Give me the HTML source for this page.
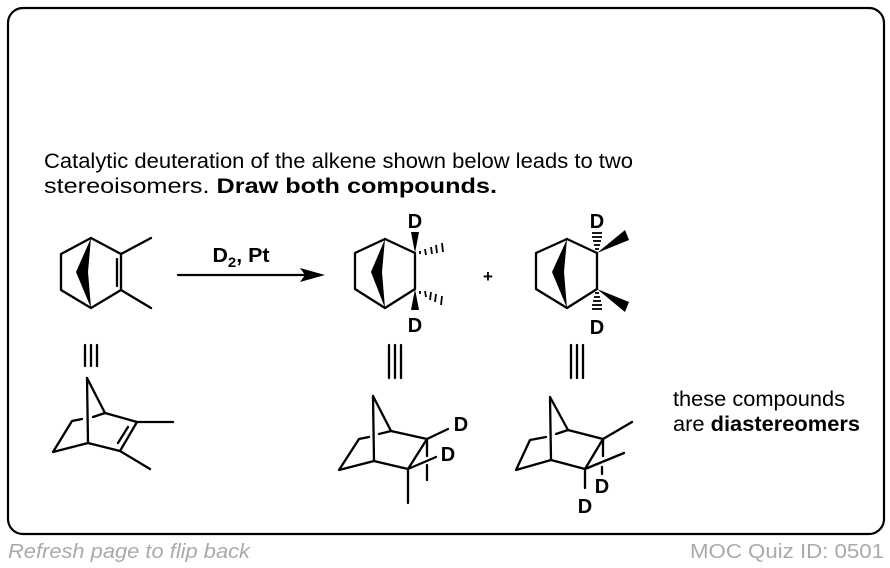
<!DOCTYPE html>
<html><head><style>
html,body{margin:0;padding:0;background:#fff;}
svg{display:block;}
text{font-family:"Liberation Sans",Arial,sans-serif;}
</style></head><body>
<svg width="890" height="568" viewBox="0 0 890 568" xmlns="http://www.w3.org/2000/svg">
<rect x="8" y="8" width="876" height="526" rx="15" fill="none" stroke="#000" stroke-width="2.2"/>
<text x="44" y="168" font-size="21" textLength="589" lengthAdjust="spacingAndGlyphs">Catalytic deuteration of the alkene shown below leads to two</text>
<text x="44" y="193" font-size="21" textLength="453" lengthAdjust="spacingAndGlyphs">stereoisomers. <tspan font-weight="bold">Draw both compounds.</tspan></text>
<text x="673" y="406" font-size="21" textLength="172" lengthAdjust="spacingAndGlyphs">these compounds</text>
<text x="673" y="431" font-size="21" textLength="187" lengthAdjust="spacingAndGlyphs">are <tspan font-weight="bold">diastereomers</tspan></text>
<text x="8" y="558" font-size="20" font-style="italic" fill="#aaa" textLength="242" lengthAdjust="spacingAndGlyphs">Refresh page to flip back</text>
<text x="690" y="558" font-size="20" fill="#aaa" textLength="194" lengthAdjust="spacingAndGlyphs">MOC Quiz ID: 0501</text>

<g stroke="#000" stroke-width="2.3" fill="none" stroke-linecap="round" stroke-linejoin="round">
<polyline points="91,238 61,254 61,290 91,308 121,290 121,254 91,238"/>
<line x1="121" y1="254" x2="151" y2="238"/>
<line x1="121" y1="290" x2="151" y2="308"/>
<line x1="117" y1="259" x2="117" y2="286"/>
<line x1="178" y1="275" x2="312" y2="275"/>
<polyline points="385,239 355,253 355,289 385,308 415,289 415,253 385,239"/>
<polyline points="567,239 536,253 536,289 567,308 597,289 597,253 567,239"/>
<line x1="85" y1="345" x2="85" y2="366"/><line x1="91" y1="345" x2="91" y2="366"/><line x1="97" y1="345" x2="97" y2="366"/>
<line x1="389" y1="345" x2="389" y2="378"/><line x1="395" y1="345" x2="395" y2="378"/><line x1="401" y1="345" x2="401" y2="378"/>
<line x1="571" y1="345" x2="571" y2="378"/><line x1="577" y1="345" x2="577" y2="378"/><line x1="583" y1="345" x2="583" y2="378"/>
<line x1="87" y1="378" x2="88" y2="443"/>
<line x1="87" y1="378" x2="105" y2="413"/>
<polyline points="88,443 53,452 72,421 82,419"/>
<line x1="93" y1="417" x2="105" y2="413"/>
<polyline points="105,413 137,422 120,451 88,443"/>
<line x1="137" y1="422" x2="173" y2="422"/>
<line x1="120" y1="451" x2="150" y2="469"/>
<line x1="118" y1="443" x2="128" y2="427"/>
<line x1="373" y1="396" x2="374" y2="461"/>
<line x1="373" y1="396" x2="391" y2="431"/>
<polyline points="374,461 339,470 359,439 369,437"/>
<line x1="379" y1="434" x2="391" y2="431"/>
<polyline points="391,431 427,439 408,469 374,461"/>
<line x1="427" y1="439" x2="448" y2="429"/>
<line x1="427" y1="439" x2="427" y2="456"/>
<line x1="427" y1="465" x2="427" y2="480"/>
<line x1="408" y1="469" x2="436" y2="457"/>
<line x1="408" y1="469" x2="408" y2="503"/>
<line x1="550" y1="397" x2="551" y2="460"/>
<line x1="550" y1="397" x2="568" y2="430"/>
<polyline points="551,460 516,470 530,440 546,437"/>
<line x1="556" y1="434" x2="568" y2="430"/>
<polyline points="568,430 603,439 585,469 551,460"/>
<line x1="603" y1="439" x2="632" y2="422"/>
<line x1="603" y1="439" x2="603" y2="456"/>
<line x1="585" y1="469" x2="624" y2="453"/>
<line x1="585" y1="469" x2="585" y2="488"/>
<line x1="602" y1="467" x2="602" y2="474"/>
</g>
<polygon points="325,275 300,268 305,275 300,282" fill="#000"/>
<polygon points="91,238 76,272 91,308 88,272" fill="#000"/>
<polygon points="385,239 371,272 385,308 382,272" fill="#000"/>
<polygon points="567,239 552,272 567,308 564,272" fill="#000"/>
<polygon points="415,253 411,232 419,232" fill="#000"/>
<polygon points="415,289 411,310 419,310" fill="#000"/>
<g stroke="#000" stroke-width="1.8">
<line x1="420" y1="251" x2="420" y2="254"/><line x1="425" y1="249" x2="426" y2="255"/><line x1="431" y1="247" x2="432" y2="254"/><line x1="436" y1="245" x2="437" y2="253"/><line x1="442" y1="243" x2="443" y2="252"/>
<line x1="420" y1="291" x2="420" y2="294"/><line x1="425" y1="291" x2="426" y2="297"/><line x1="431" y1="292" x2="430" y2="300"/><line x1="436" y1="294" x2="435" y2="302"/><line x1="442" y1="296" x2="441" y2="305"/>
<line x1="595" y1="249" x2="599" y2="249"/><line x1="594" y1="245" x2="600" y2="245"/><line x1="593" y1="241" x2="601" y2="241"/><line x1="592" y1="237" x2="602" y2="237"/><line x1="592" y1="233" x2="602" y2="233"/>
<line x1="595" y1="293" x2="599" y2="293"/><line x1="594" y1="297" x2="600" y2="297"/><line x1="593" y1="301" x2="601" y2="301"/><line x1="592" y1="305" x2="602" y2="305"/><line x1="592" y1="309" x2="602" y2="309"/>
</g>
<polygon points="597,253 625,230 629,240" fill="#000"/>
<polygon points="597,289 629,302 625,312" fill="#000"/>
<g font-weight="bold" font-size="20" text-anchor="middle">
<text x="241" y="262" textLength="57" lengthAdjust="spacingAndGlyphs">D<tspan font-size="14" dy="5">2</tspan><tspan dy="-5">, Pt</tspan></text>
<text x="415" y="228">D</text>
<text x="415" y="332">D</text>
<text x="597" y="228">D</text>
<text x="597" y="334">D</text>
<text x="488" y="282" font-size="17">+</text>
<text x="461" y="431">D</text>
<text x="448" y="461">D</text>
<text x="602" y="493">D</text>
<text x="585" y="513">D</text>
</g>
</svg>
</body></html>
